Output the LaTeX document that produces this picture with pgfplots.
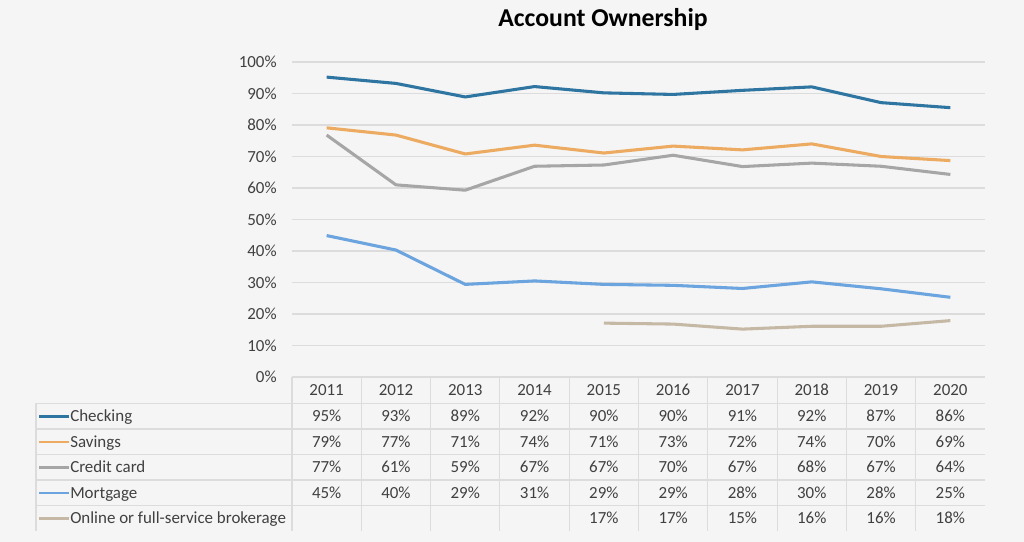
\documentclass[border=0pt]{standalone}
\usepackage{pgfplots}
\pgfplotsset{compat=1.18}
\usepackage{pgfplotstable}
\usepackage{fontspec}
\setmainfont{Carlito}

\definecolor{bg}{HTML}{F5F5F5}
\definecolor{gridc}{HTML}{DCDCDC}
\definecolor{txt}{HTML}{404040}
\definecolor{checking}{HTML}{2E75A2}
\definecolor{savings}{HTML}{EDAB62}
\definecolor{credit}{HTML}{A6A6A6}
\definecolor{mortgage}{HTML}{6BA4DE}
\definecolor{online}{HTML}{C5B8A5}

% plotted values (percent), x = column centre
\pgfplotstableread{
x    checking savings credit mortgage online
0.5  95.2     79.1    76.8   44.9     nan
1.5  93.2     76.8    61.0   40.3     nan
2.5  88.9     70.8    59.3   29.4     nan
3.5  92.2     73.6    66.9   30.5     nan
4.5  90.2     71.1    67.3   29.4     17.1
5.5  89.7     73.3    70.4   29.1     16.8
6.5  91.0     72.1    66.8   28.1     15.2
7.5  92.1     74.0    67.9   30.2     16.1
8.5  87.1     70.0    66.9   28.0     16.1
9.5  85.5     68.7    64.3   25.3     17.9
}\acct

\begin{document}
\begin{tikzpicture}[font=\fontsize{12.7}{14}\selectfont]
% background, 1024 x 542 px at 0.75pt/px
\fill[bg] (0,0) rectangle (768pt,406.5pt);

\begin{axis}[
  at={(219pt,123.75pt)}, anchor=south west,
  scale only axis, width=519.75pt, height=236.25pt,
  xmin=0, xmax=10, ymin=0, ymax=100,
  axis line style={draw=none},
  tick style={draw=none},
  xtick=\empty,
  ytick={0,10,...,100},
  yticklabels={0\%,10\%,20\%,30\%,40\%,50\%,60\%,70\%,80\%,90\%,100\%},
  yticklabel style={text=txt, anchor=east, xshift=-8pt},
  ymajorgrids, grid style={gridc, line width=0.8pt},
  major tick length=0pt,
  clip=false,
  every axis plot/.append style={line width=2.3pt, line join=round, no markers},
]
\addplot[checking] table[x=x,y=checking] {\acct};
\addplot[savings]  table[x=x,y=savings]  {\acct};
\addplot[credit]   table[x=x,y=credit]   {\acct};
\addplot[mortgage] table[x=x,y=mortgage] {\acct};
\addplot[online, unbounded coords=discard] table[x=x,y=online] {\acct};
\end{axis}

% title and data table in pixel coordinates
\begin{scope}[x=0.75pt, y=-0.75pt, yshift=406.5pt]
\node[font=\fontsize{19.3}{21}\selectfont\bfseries, text=black] at (603,20) {Account Ownership};

% grid of the data table
\draw[gridc, line width=0.8pt] (292,377) -- (985,377);
\foreach \yy in {403.5,429,454.5,480,505.5}
  \draw[gridc, line width=0.8pt] (36,\yy) -- (985,\yy);
\draw[gridc, line width=0.8pt] (36,403.5) -- (36,531);
\foreach \i in {0,...,9}
  \draw[gridc, line width=0.8pt] ({292+69.3*\i},377) -- ({292+69.3*\i},531);

% header years
\foreach \yr [count=\i from 0] in {2011,...,2020}
  \node[text=txt, anchor=base] at ({292+69.3*(\i+0.5)},395.5) {\yr};

% legend keys and names
\foreach \c/\name [count=\r from 0] in {checking/Checking, savings/Savings, credit/Credit card, mortgage/Mortgage, online/Online or full-service brokerage}{
  \draw[\c, line width=2pt] (39,{416.5+25.5*\r}) -- (69,{416.5+25.5*\r});
  \node[text=txt, anchor=base west, inner sep=0pt] at (70,{422+25.5*\r}) {\name};
}

% table values
\foreach \row [count=\r from 0] in {
  {95,93,89,92,90,90,91,92,87,86},
  {79,77,71,74,71,73,72,74,70,69},
  {77,61,59,67,67,70,67,68,67,64},
  {45,40,29,31,29,29,28,30,28,25},
  {,,,,17,17,15,16,16,18}}{
  \foreach \v [count=\i from 0] in \row {
    \ifx\v\empty\else
      \node[text=txt, anchor=base] at ({292+69.3*(\i+0.5)},{422+25.5*\r}) {\v\%};
    \fi
  }
}
\end{scope}
\end{tikzpicture}
\end{document}
